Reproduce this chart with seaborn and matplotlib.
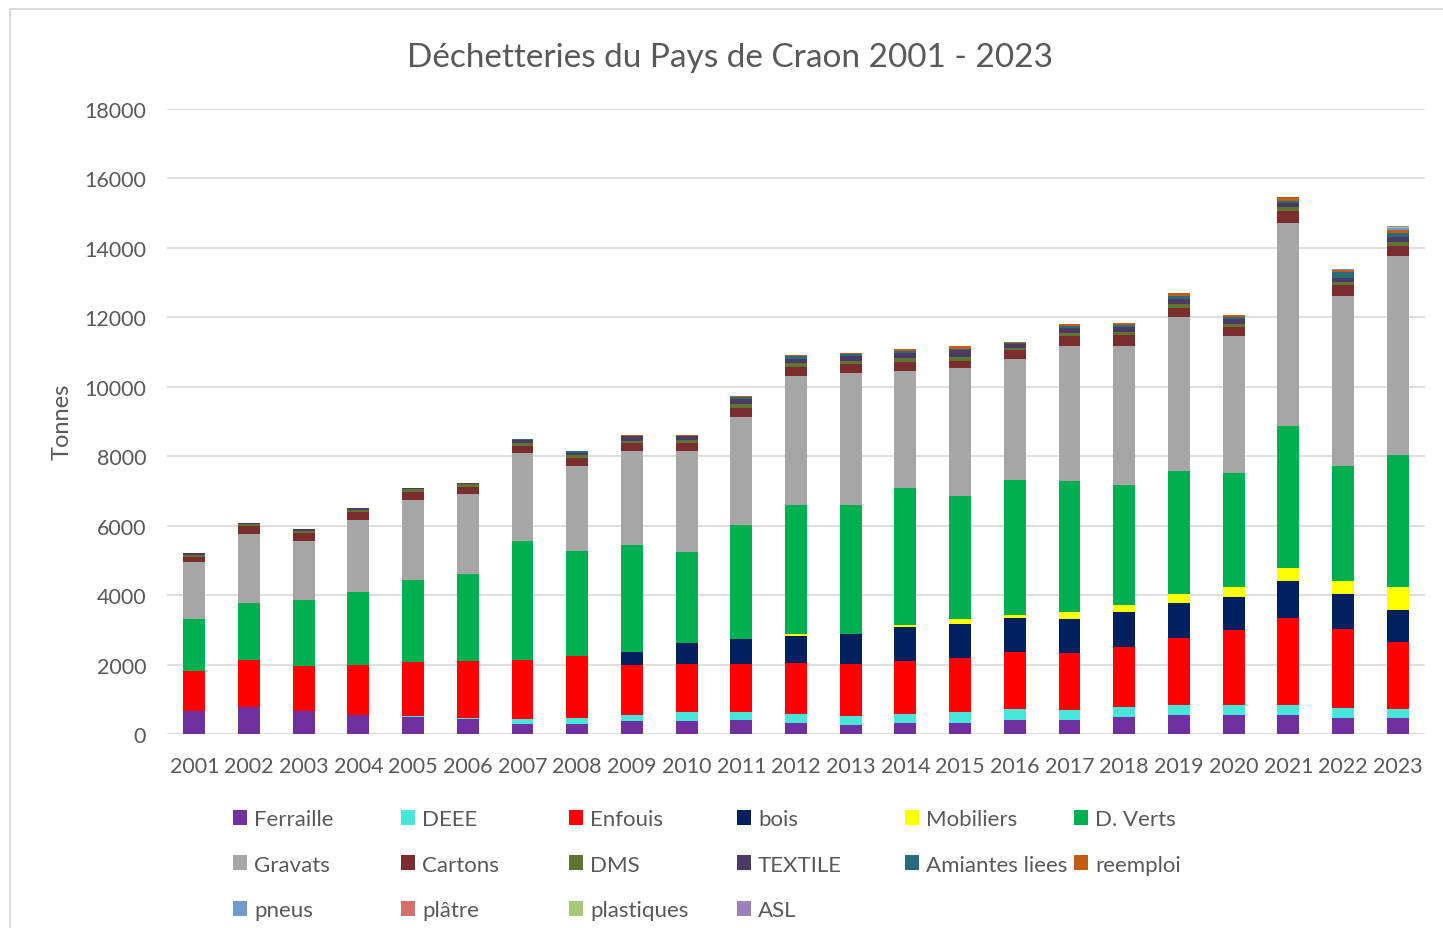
import numpy as np
import pandas as pd
import seaborn as sns
import matplotlib
matplotlib.use("Agg")
import matplotlib.pyplot as plt
from matplotlib.patches import Patch, Rectangle

years = [str(y) for y in range(2001, 2024)]

ferraille = [662, 768, 662, 557, 480, 442, 288, 288, 363, 363, 401, 325, 248, 325, 325, 401, 411, 493, 535, 535, 535, 452, 452]
deee = [0, 0, 0, 0, 48, 28, 154, 182, 181, 258, 220, 258, 258, 258, 296, 325, 267, 299, 287, 287, 287, 298, 257]
enfouis = [1143, 1373, 1296, 1440, 1536, 1632, 1699, 1776, 1433, 1394, 1394, 1470, 1509, 1508, 1576, 1623, 1656, 1727, 1954, 2169, 2509, 2283, 1954]
bois = [0, 0, 0, 0, 0, 0, 0, 0, 372, 592, 735, 774, 879, 994, 983, 984, 986, 997, 997, 967, 1069, 997, 894]
mobiliers = [0, 0, 0, 0, 0, 0, 0, 0, 0, 0, 0, 48, 0, 47, 124, 105, 185, 205, 246, 267, 370, 370, 668]
d_verts = [1517, 1622, 1911, 2102, 2362, 2506, 3427, 3024, 3085, 2645, 3267, 3734, 3715, 3954, 3562, 3868, 3773, 3444, 3557, 3279, 4102, 3331, 3824]
gravats = [1622, 1987, 1699, 2064, 2323, 2294, 2515, 2439, 2712, 2894, 3122, 3705, 3781, 3371, 3668, 3486, 3907, 4020, 4431, 3948, 5859, 4893, 5726]
cartons = [144, 231, 221, 221, 230, 221, 221, 249, 229, 229, 258, 258, 258, 258, 219, 257, 267, 298, 257, 257, 339, 298, 288]
dms = [67, 57, 67, 58, 77, 67, 67, 68, 67, 105, 96, 105, 105, 115, 115, 67, 103, 82, 113, 113, 110, 106, 115]
textile = [48, 48, 48, 57, 38, 48, 87, 67, 134, 96, 153, 115, 134, 153, 191, 115, 144, 154, 144, 123, 106, 115, 144]
amiantes = [0, 0, 0, 0, 0, 0, 38, 57, 0, 0, 47, 85, 57, 47, 38, 39, 62, 62, 82, 62, 77, 154, 115]
reemploi = [0, 0, 0, 0, 0, 0, 0, 0, 30, 30, 30, 39, 39, 67, 67, 28, 51, 62, 93, 62, 115, 77, 86]
pneus = [0] * 21 + [29, 38]
platre = [0] * 22 + [10]
plastiques = [0] * 22 + [20]
asl = [0] * 22 + [38]

series = ["Ferraille", "DEEE", "Enfouis", "bois", "Mobiliers", "D. Verts",
          "Gravats", "Cartons", "DMS", "TEXTILE", "Amiantes liees", "reemploi",
          "pneus", "plâtre", "plastiques", "ASL"]
values = [ferraille, deee, enfouis, bois, mobiliers, d_verts, gravats, cartons,
          dms, textile, amiantes, reemploi, pneus, platre, plastiques, asl]
colors = ["#7030A0", "#48E5DA", "#FF0000", "#002060", "#FFFF00", "#00B050",
          "#A6A6A6", "#7B2C2C", "#5E7430", "#4B3A64", "#276B7C", "#C55A11",
          "#7099CE", "#D4706C", "#AAC778", "#9A82B8"]

df = pd.DataFrame(dict(zip(series, values)), index=years)

sns.set_style("white")
plt.rcParams['font.family'] = ['Lato', 'DejaVu Sans']
grey = "#595959"

fig = plt.figure(figsize=(14.43, 9.29), dpi=100)
ax = fig.add_axes([167 / 1443, 1 - 735 / 929, 1258 / 1443, 625 / 929])

bottom = np.zeros(len(years))
for name, col in zip(series, colors):
    sns.barplot(x=years, y=df[name].values, bottom=bottom, color=col,
                width=0.4, errorbar=None, ax=ax, saturation=1, linewidth=0)
    bottom = bottom + df[name].values

ax.set_ylim(0, 18000)
ax.set_xlim(-0.5, 22.5)
ax.set_yticks(range(0, 18001, 2000))
ax.yaxis.grid(True, color="#d9d9d9", linewidth=1.2)
ax.set_axisbelow(True)
for s in ax.spines.values():
    s.set_visible(False)
ax.tick_params(axis="both", length=0, labelsize=15.5, labelcolor=grey)
ax.tick_params(axis="y", pad=15)
ax.tick_params(axis="x", pad=16)
ax.set_xlabel("")
ax.set_ylabel("")

fig.text(62 / 1443, 1 - 422 / 929, "Tonnes", rotation=90, ha="center",
         va="center", fontsize=17, color=grey)
fig.text(730 / 1443, 1 - 58 / 929, "Déchetteries du Pays de Craon 2001 - 2023",
         ha="center", va="center", fontsize=24, color=grey)

# legend, one block per column so the columns are evenly spaced
col_x = [233, 401, 569, 737, 905, 1074]
for c in range(6):
    idx = [i for i in range(c, len(series), 6)]
    handles = [Patch(facecolor=colors[i], edgecolor="none") for i in idx]
    labels = [series[i] for i in idx]
    fig.legend(handles, labels, loc="upper left",
               bbox_to_anchor=(col_x[c] / 1443, 1 - 810 / 929),
               frameon=False, fontsize=16, labelcolor=grey,
               handlelength=0.65, handleheight=0.65, handletextpad=0.3,
               borderpad=0, borderaxespad=0, labelspacing=1.15)

fig.patches.append(Rectangle((10 / 1443, -0.1), 1.2, 1.1 - 10 / 929,
                             transform=fig.transFigure, fill=False,
                             edgecolor="#d9d9d9", linewidth=1.5))

plt.savefig("out.png", dpi=100)
